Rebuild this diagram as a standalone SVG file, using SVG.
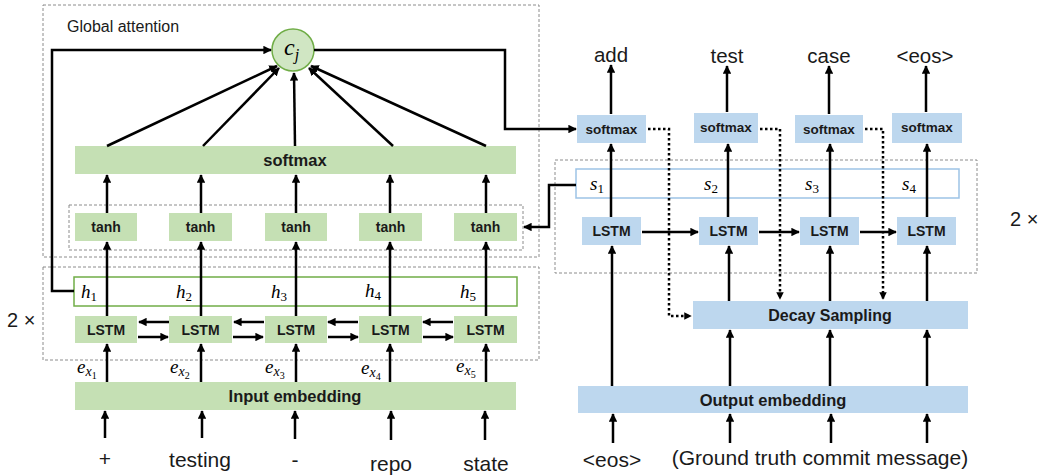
<svg xmlns="http://www.w3.org/2000/svg" width="1051" height="476" viewBox="0 0 1051 476">
<defs>
<marker id="ah" viewBox="0 0 10 10" refX="9" refY="5" markerWidth="3.4" markerHeight="3.4" orient="auto" markerUnits="strokeWidth"><path d="M0,0 L10,5 L0,10 z" fill="#000"/></marker>
<marker id="ahs" viewBox="0 0 10 10" refX="9" refY="5" markerWidth="3" markerHeight="3" orient="auto" markerUnits="strokeWidth"><path d="M0,0 L10,5 L0,10 z" fill="#000"/></marker>
</defs>
<style>
.dash{fill:none;stroke:#8c8c8c;stroke-width:1;stroke-dasharray:3 2}
.g{fill:#c5e0b4}
.b{fill:#bdd7ee}
.lbl{font-family:"Liberation Sans",Arial,sans-serif;font-weight:bold;fill:#1a1a1a;text-anchor:middle;dominant-baseline:central}
.word{font-family:"Liberation Sans",Arial,sans-serif;fill:#1a1a1a;text-anchor:middle}
.math{font-family:"Liberation Serif","Times New Roman",serif;font-style:italic;fill:#000}
.sub{font-style:normal}
.plain{font-family:"Liberation Sans",Arial,sans-serif;fill:#1a1a1a}
.ar{fill:none;stroke:#000;stroke-width:2.5;marker-end:url(#ah)}
.dot{fill:none;stroke:#000;stroke-width:2.5;stroke-dasharray:2.5 2.5;marker-end:url(#ahs)}
</style>

<g id="frames">
<rect class="dash" x="43" y="5" width="496" height="252"/>
<text class="plain" x="67" y="32" font-size="16">Global attention</text>
<rect class="dash" x="69" y="205" width="454" height="45"/>
<rect class="dash" x="43" y="267" width="496" height="93"/>
<rect class="dash" x="555" y="160" width="422" height="113"/>
<text class="plain" x="7" y="327" font-size="20">2 ×</text>
<text class="plain" x="1010" y="226" font-size="20">2 ×</text>
</g>

<g id="cj">
<circle cx="293" cy="50" r="21" fill="#d0e6c3" stroke="#70ad47" stroke-width="1.5"/>
<text class="math" x="284" y="55" font-size="24">c<tspan font-size="16" dy="5">j</tspan></text>
</g>

<g id="enc-softmax">
<rect class="g" x="75" y="146" width="441" height="28"/>
<text class="lbl" x="295" y="160" font-size="16.5">softmax</text>
</g>

<g id="tanh">
<rect class="g" x="75" y="213" width="62" height="28"/><text class="lbl" x="106" y="227" font-size="14">tanh</text>
<rect class="g" x="169" y="213" width="63" height="28"/><text class="lbl" x="200.5" y="227" font-size="14">tanh</text>
<rect class="g" x="265" y="213" width="62" height="28"/><text class="lbl" x="296" y="227" font-size="14">tanh</text>
<rect class="g" x="359" y="213" width="63" height="28"/><text class="lbl" x="390.5" y="227" font-size="14">tanh</text>
<rect class="g" x="454" y="213" width="63" height="28"/><text class="lbl" x="485.5" y="227" font-size="14">tanh</text>
</g>

<g id="h-states">
<rect x="74" y="277" width="443" height="29" fill="#fff" stroke="#70ad47" stroke-width="1.5"/>
<text class="math" x="81" y="298" font-size="19">h<tspan class="sub" font-size="13" dy="3">1</tspan></text>
<text class="math" x="176" y="298" font-size="19">h<tspan class="sub" font-size="13" dy="3">2</tspan></text>
<text class="math" x="271" y="298" font-size="19">h<tspan class="sub" font-size="13" dy="3">3</tspan></text>
<text class="math" x="365" y="297" font-size="19">h<tspan class="sub" font-size="13" dy="3">4</tspan></text>
<text class="math" x="460" y="298" font-size="19">h<tspan class="sub" font-size="13" dy="3">5</tspan></text>
</g>

<g id="enc-lstm">
<rect class="g" x="75" y="316" width="62" height="27"/><text class="lbl" x="106" y="329.5" font-size="14">LSTM</text>
<rect class="g" x="169" y="316" width="63" height="27"/><text class="lbl" x="200.5" y="329.5" font-size="14">LSTM</text>
<rect class="g" x="265" y="316" width="62" height="27"/><text class="lbl" x="296" y="329.5" font-size="14">LSTM</text>
<rect class="g" x="359" y="316" width="63" height="27"/><text class="lbl" x="390.5" y="329.5" font-size="14">LSTM</text>
<rect class="g" x="454" y="316" width="63" height="27"/><text class="lbl" x="485.5" y="329.5" font-size="14">LSTM</text>
</g>

<g id="ex-labels">
<text class="math" x="77" y="373" font-size="19">e<tspan font-size="14" dy="3">x</tspan><tspan class="sub" font-size="10" dy="3">1</tspan></text>
<text class="math" x="170" y="373" font-size="19">e<tspan font-size="14" dy="3">x</tspan><tspan class="sub" font-size="10" dy="3">2</tspan></text>
<text class="math" x="265" y="373" font-size="19">e<tspan font-size="14" dy="3">x</tspan><tspan class="sub" font-size="10" dy="3">3</tspan></text>
<text class="math" x="361" y="374" font-size="19">e<tspan font-size="14" dy="3">x</tspan><tspan class="sub" font-size="10" dy="3">4</tspan></text>
<text class="math" x="456" y="372" font-size="19">e<tspan font-size="14" dy="3">x</tspan><tspan class="sub" font-size="10" dy="3">5</tspan></text>
</g>

<g id="input-embedding">
<rect class="g" x="75" y="382" width="441" height="28"/>
<text class="lbl" x="295" y="396" font-size="16.5">Input embedding</text>
</g>

<g id="input-words">
<text class="word" x="105" y="466" font-size="21">+</text>
<text class="word" x="200" y="467" font-size="21">testing</text>
<text class="word" x="295" y="467" font-size="21">-</text>
<text class="word" x="391" y="471" font-size="21">repo</text>
<text class="word" x="486" y="471" font-size="21">state</text>
</g>

<g id="dec-softmax">
<rect class="b" x="577" y="115" width="69" height="28"/><text class="lbl" x="611.5" y="129" font-size="13.5">softmax</text>
<rect class="b" x="694" y="113" width="64" height="30"/><text class="lbl" x="726" y="127" font-size="13.5">softmax</text>
<rect class="b" x="795" y="115" width="68" height="28"/><text class="lbl" x="829" y="129" font-size="13.5">softmax</text>
<rect class="b" x="892" y="113" width="70" height="30"/><text class="lbl" x="927" y="127" font-size="13.5">softmax</text>
</g>

<g id="output-words">
<text class="word" x="611" y="62" font-size="20.5">add</text>
<text class="word" x="727" y="63" font-size="20.5">test</text>
<text class="word" x="829" y="63" font-size="20.5">case</text>
<text class="word" x="925" y="63" font-size="20.5">&lt;eos&gt;</text>
</g>

<g id="s-states">
<rect x="576" y="169" width="383" height="29" fill="#fff" stroke="#9dc3e6" stroke-width="1.5"/>
<text class="math" x="590" y="190" font-size="19">s<tspan class="sub" font-size="13" dy="3">1</tspan></text>
<text class="math" x="704" y="190" font-size="19">s<tspan class="sub" font-size="13" dy="3">2</tspan></text>
<text class="math" x="805" y="190" font-size="19">s<tspan class="sub" font-size="13" dy="3">3</tspan></text>
<text class="math" x="902" y="190" font-size="19">s<tspan class="sub" font-size="13" dy="3">4</tspan></text>
</g>

<g id="dec-lstm">
<rect class="b" x="582" y="217" width="59" height="28"/><text class="lbl" x="611.5" y="231" font-size="14">LSTM</text>
<rect class="b" x="699" y="217" width="59" height="28"/><text class="lbl" x="728.5" y="231" font-size="14">LSTM</text>
<rect class="b" x="800" y="217" width="59" height="28"/><text class="lbl" x="829.5" y="231" font-size="14">LSTM</text>
<rect class="b" x="897" y="217" width="59" height="28"/><text class="lbl" x="926.5" y="231" font-size="14">LSTM</text>
</g>

<g id="decay-sampling">
<rect class="b" x="693" y="301" width="275" height="28"/>
<text class="lbl" x="830" y="315" font-size="16">Decay Sampling</text>
</g>

<g id="output-embedding">
<rect class="b" x="578" y="386" width="390" height="27"/>
<text class="lbl" x="773" y="399.5" font-size="16.5">Output embedding</text>
</g>

<g id="target-words">
<text class="word" x="612" y="467" font-size="21">&lt;eos&gt;</text>
<text class="word" x="820" y="465" font-size="21">(Ground truth commit message)</text>
</g>

<g id="connectors">
<path class="ar" d="M107,146 L277,66"/>
<path class="ar" d="M203,146 L279,68"/>
<path class="ar" d="M295,146 L294,73"/>
<path class="ar" d="M393,146 L309,68"/>
<path class="ar" d="M486,146 L311,66"/>
<path class="ar" d="M107,213 L107,175"/>
<path class="ar" d="M201,213 L201,175"/>
<path class="ar" d="M296,213 L296,175"/>
<path class="ar" d="M390,213 L390,175"/>
<path class="ar" d="M486,213 L486,175"/>
<path class="ar" d="M107,316 L107,242"/>
<path class="ar" d="M201,316 L201,242"/>
<path class="ar" d="M296,316 L296,242"/>
<path class="ar" d="M390,316 L390,242"/>
<path class="ar" d="M486,316 L486,242"/>
<path class="ar" d="M169,322 L139,322"/>
<path class="ar" d="M138,337 L168,337"/>
<path class="ar" d="M264,322 L234,322"/>
<path class="ar" d="M233,337 L263,337"/>
<path class="ar" d="M358,322 L328,322"/>
<path class="ar" d="M328,337 L358,337"/>
<path class="ar" d="M453,322 L423,322"/>
<path class="ar" d="M423,337 L453,337"/>
<path class="ar" d="M107,382 L107,344"/>
<path class="ar" d="M201,382 L201,344"/>
<path class="ar" d="M296,382 L296,344"/>
<path class="ar" d="M390,382 L390,344"/>
<path class="ar" d="M486,382 L486,344"/>
<path class="ar" d="M105,438 L105,411"/>
<path class="ar" d="M202,438 L202,411"/>
<path class="ar" d="M295,439 L295,411"/>
<path class="ar" d="M391,440 L391,411"/>
<path class="ar" d="M485,440 L485,411"/>
<path class="ar" d="M74,291 L52,291 L52,50 L271,50"/>
<path class="ar" d="M314,50 L505,50 L505,129 L576,129"/>
<path class="ar" d="M576,185 L549,185 L549,227 L524,227"/>
<path class="ar" d="M611,114 L611,65"/>
<path class="ar" d="M727,112 L727,66"/>
<path class="ar" d="M829,114 L829,66"/>
<path class="ar" d="M926,112 L926,66"/>
<path class="ar" d="M611,217 L611,144"/>
<path class="ar" d="M728,217 L728,144"/>
<path class="ar" d="M830,217 L830,144"/>
<path class="ar" d="M927,217 L927,144"/>
<path class="ar" d="M642,232 L698,232"/>
<path class="ar" d="M759,232 L799,232"/>
<path class="ar" d="M860,232 L896,232"/>
<path class="ar" d="M729,301 L729,246"/>
<path class="ar" d="M830,301 L830,246"/>
<path class="ar" d="M927,301 L927,246"/>
<path class="ar" d="M612,386 L612,246"/>
<path class="ar" d="M730,386 L730,330"/>
<path class="ar" d="M830,386 L830,330"/>
<path class="ar" d="M927,386 L927,330"/>
<path class="ar" d="M613,443 L613,414"/>
<path class="ar" d="M730,443 L730,414"/>
<path class="ar" d="M831,443 L831,414"/>
<path class="ar" d="M927,443 L927,414"/>
<path class="dot" d="M648,129 L669,129 L669,316 L691,316"/>
<path class="dot" d="M760,129 L780,129 L780,299"/>
<path class="dot" d="M865,129 L883,129 L883,299"/>
</g>
</svg>
